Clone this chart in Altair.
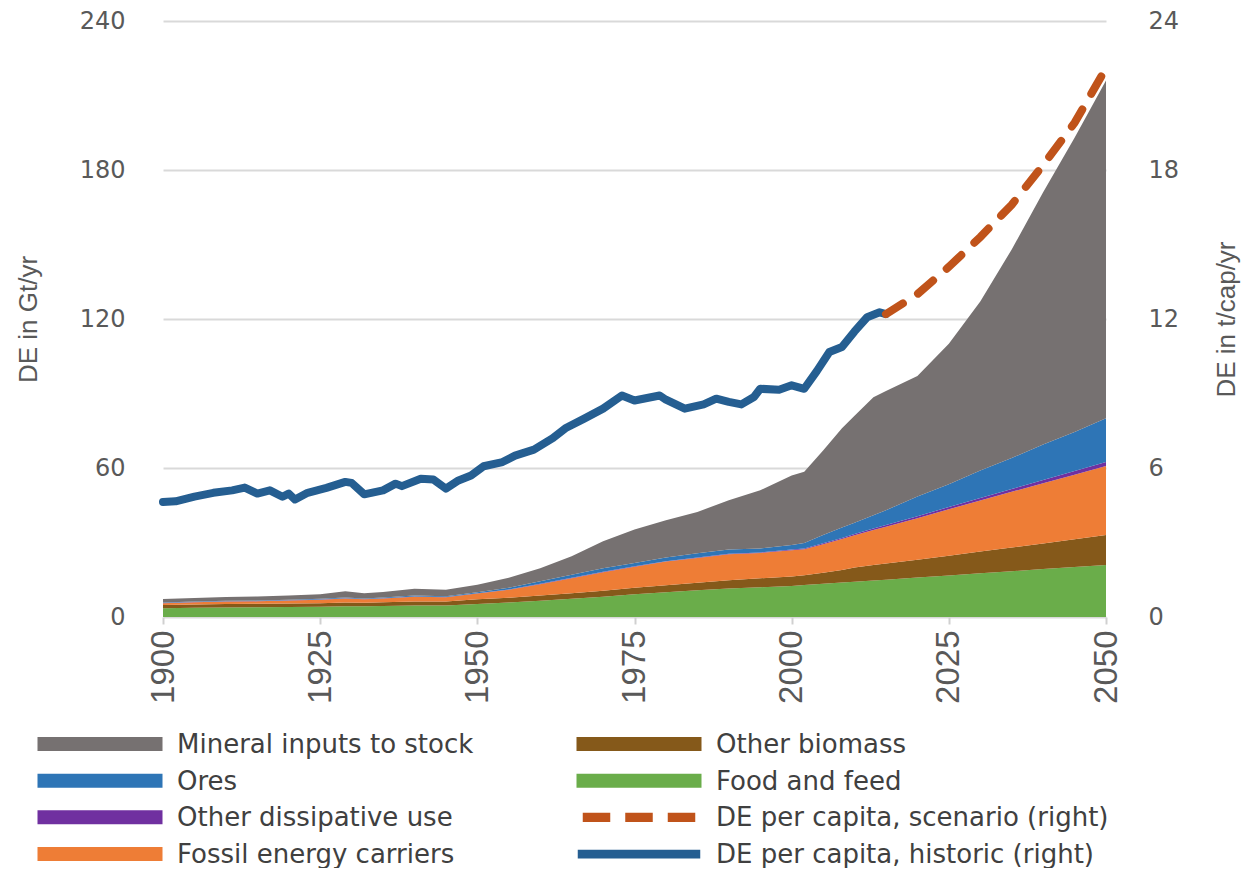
import altair as alt
import pandas as pd

# ---------------- data ----------------
years = [1900, 1905, 1910, 1915, 1920, 1925, 1929, 1932, 1935, 1940, 1945,
         1950, 1955, 1960, 1965, 1970, 1975, 1980, 1985, 1990, 1995, 2000,
         2002, 2005, 2008, 2010, 2013, 2015, 2020, 2025, 2030, 2035, 2040,
         2045, 2050]

food_feed = [3.5, 3.7, 3.8, 3.9, 4.0, 4.1, 4.3, 4.3, 4.4, 4.6, 4.6,
             5.2, 5.8, 6.5, 7.3, 8.2, 9.2, 10.0, 10.8, 11.5, 12.0, 12.5,
             12.9, 13.4, 13.9, 14.2, 14.7, 15.0, 15.9, 16.7, 17.6, 18.4, 19.3,
             20.1, 20.9]
other_biomass = [1.3, 1.3, 1.4, 1.4, 1.4, 1.4, 1.5, 1.4, 1.5, 1.6, 1.6,
                 1.9, 2.0, 2.2, 2.3, 2.4, 2.6, 2.8, 3.0, 3.3, 3.6, 3.8,
                 3.9, 4.4, 5.0, 5.7, 6.2, 6.5, 7.2, 8.0, 8.8, 9.6, 10.3,
                 11.2, 12.1]
fossil = [0.7, 0.9, 1.0, 1.0, 1.2, 1.4, 1.7, 1.4, 1.6, 2.0, 1.8,
          2.4, 3.2, 4.5, 6.0, 7.4, 8.4, 9.5, 10.0, 10.5, 10.2, 10.6,
          10.5, 11.5, 12.5, 13.0, 14.1, 14.8, 16.7, 18.7, 20.5, 22.4, 24.3,
          26.0, 27.8]
dissipative = [0.1, 0.1, 0.1, 0.1, 0.1, 0.1, 0.1, 0.1, 0.1, 0.1, 0.1,
               0.1, 0.1, 0.2, 0.2, 0.2, 0.2, 0.2, 0.2, 0.2, 0.2, 0.3,
               0.3, 0.4, 0.4, 0.5, 0.6, 0.7, 0.8, 0.9, 1.0, 1.1, 1.3,
               1.5, 1.6]
ores = [0.2, 0.2, 0.2, 0.2, 0.2, 0.3, 0.3, 0.2, 0.3, 0.4, 0.3,
        0.4, 0.7, 1.0, 1.2, 1.4, 1.3, 1.5, 1.7, 1.7, 1.6, 1.8,
        2.2, 3.3, 4.2, 4.6, 5.4, 6.0, 7.9, 9.2, 11.1, 12.5, 14.3,
        15.7, 17.6]
minerals = [1.4, 1.5, 1.6, 1.7, 1.8, 1.9, 2.5, 2.2, 2.2, 2.7, 2.6,
            3.0, 4.0, 5.2, 7.5, 10.9, 13.5, 15.0, 16.6, 19.8, 23.4, 28.0,
            28.7, 34.0, 40.0, 43.0, 47.5, 48.0, 48.5, 56.5, 68.0, 84.0, 101.5,
            118.5, 136.0]

hist_years = [1900, 1902, 1905, 1908, 1911, 1913, 1915, 1917, 1919, 1920,
              1921, 1923, 1926, 1929, 1930, 1932, 1935, 1937, 1938, 1941,
              1943, 1945, 1947, 1949, 1951, 1954, 1956, 1959, 1962, 1964,
              1967, 1970, 1973, 1975, 1979, 1980, 1983, 1986, 1988, 1990,
              1992, 1994, 1995, 1998, 2000, 2002, 2004, 2006, 2008, 2010,
              2012, 2014, 2015]
hist_vals = [4.63, 4.66, 4.85, 5.0, 5.1, 5.21, 4.97, 5.1, 4.84, 4.97,
             4.73, 5.0, 5.2, 5.44, 5.4, 4.94, 5.1, 5.37, 5.27, 5.57,
             5.54, 5.17, 5.5, 5.7, 6.07, 6.24, 6.5, 6.74, 7.2, 7.6,
             7.99, 8.39, 8.92, 8.72, 8.92, 8.75, 8.39, 8.56, 8.79, 8.66,
             8.56, 8.86, 9.19, 9.15, 9.33, 9.19, 9.9, 10.67, 10.87, 11.5,
             12.07, 12.27, 12.2]

scen_years = [2015, 2020, 2025, 2030, 2035, 2040, 2045, 2050]
scen_vals = [12.2, 13.0, 14.1, 15.3, 16.6, 18.2, 19.9, 22.1]

area_names = ["Food and feed", "Other biomass", "Fossil energy carriers",
              "Other dissipative use", "Ores", "Mineral inputs to stock"]
area_series = [food_feed, other_biomass, fossil, dissipative, ores, minerals]

# legend entries, laid out two per row
legend_order = ["Mineral inputs to stock", "Other biomass",
                "Ores", "Food and feed",
                "Other dissipative use", "DE per capita, scenario (right)",
                "Fossil energy carriers", "DE per capita, historic (right)"]
legend_colors = ["#767171", "#85591A",
                 "#2E75B6", "#6AAD4A",
                 "#7030A0", "#C0531A",
                 "#EE7D36", "#255E91"]
legend_col = [0, 1, 0, 1, 0, 1, 0, 1]
legend_row = [0, 0, 1, 1, 2, 2, 3, 3]
legend_kind = ["bar", "bar", "bar", "bar", "bar", "dash", "bar", "line"]

x_ticks = [1900, 1925, 1950, 1975, 2000, 2025, 2050]
left_ticks = [0, 60, 120, 180, 240]
right_ticks = [0, 6, 12, 18, 24]

# ---------------- tables ----------------
rows = []
for k, (name, vals) in enumerate(zip(area_names, area_series)):
    for yr, v in zip(years, vals):
        rows.append({"year": yr, "value": v, "series": name, "k": k})
area_df = pd.DataFrame(rows)
hist_df = pd.DataFrame({"year": hist_years, "pc": hist_vals,
                        "series": "DE per capita, historic (right)"})
scen_df = pd.DataFrame({"year": scen_years, "pc": scen_vals,
                        "series": "DE per capita, scenario (right)"})
legend_df = pd.DataFrame({"series": legend_order, "col": legend_col,
                          "row": legend_row, "kind": legend_kind})

RECT = "M-1,-0.112L1,-0.112L1,0.112L-1,0.112Z"
DASH = ("M-0.9,-0.075L-0.46,-0.075L-0.46,0.075L-0.9,0.075Z "
        "M-0.22,-0.075L0.22,-0.075L0.22,0.075L-0.22,0.075Z "
        "M0.46,-0.075L0.9,-0.075L0.9,0.075L0.46,0.075Z")
LINE = "M-0.98,-0.07L0.98,-0.07L0.98,0.07L-0.98,0.07Z"

ROT = "Liberation Sans, Arial, sans-serif"
WIDE = "DejaVu Sans, Verdana, sans-serif"
TXT = "#595959"

color_scale = alt.Scale(domain=legend_order, range=legend_colors)
x_scale = alt.Scale(domain=[1900, 2050], nice=False, zero=False)

x_enc = alt.X("year:Q", scale=x_scale,
              axis=alt.Axis(values=x_ticks, format="d", title=None,
                            labelAngle=270, labelFont=ROT, labelFontSize=33,
                            labelColor=TXT, labelPadding=6, tickSize=7,
                            tickColor="#d0d0d0", tickWidth=2, domain=False,
                            grid=False))
x_noaxis = alt.X("year:Q", scale=x_scale, axis=None)

areas = alt.Chart(area_df).mark_area(interpolate="linear").encode(
    x=x_enc,
    y=alt.Y("value:Q", stack="zero",
            scale=alt.Scale(domain=[0, 240], nice=False),
            axis=alt.Axis(values=left_ticks, title="DE in Gt/yr", orient="left",
                          labelFont=WIDE, labelFontSize=24, labelColor=TXT,
                          labelPadding=38, ticks=False, tickSize=0, domain=False,
                          grid=True, gridColor="#d9d9d9", gridWidth=2,
                          titleFont=ROT, titleFontSize=26,
                          titleFontWeight="normal", titleColor=TXT,
                          titlePadding=38, titleAngle=270)),
    color=alt.Color("series:N", scale=color_scale, legend=None),
    order=alt.Order("k:Q", sort="ascending"),
)

right_axis = alt.Axis(values=right_ticks, title="DE in t/cap/yr", orient="right",
                      labelFont=WIDE, labelFontSize=24, labelColor=TXT,
                      labelPadding=42, ticks=False, tickSize=0, domain=False,
                      grid=False, titleFont=ROT, titleFontSize=26,
                      titleFontWeight="normal", titleColor=TXT,
                      titlePadding=61, titleAngle=270)
right_y = alt.Y("pc:Q", scale=alt.Scale(domain=[0, 24], nice=False), axis=right_axis)

hist_line = alt.Chart(hist_df).mark_line(strokeWidth=8, strokeJoin="round",
                                         strokeCap="round").encode(
    x=x_noaxis, y=right_y,
    color=alt.Color("series:N", scale=color_scale, legend=None))

scen_line = alt.Chart(scen_df).mark_line(strokeWidth=8, strokeDash=[20, 18],
                                         strokeCap="round").encode(
    x=x_noaxis, y=right_y,
    color=alt.Color("series:N", scale=color_scale, legend=None))

lines = alt.layer(hist_line, scen_line)

# ---------------- legend drawn below the plot ----------------
leg_base = alt.Chart(legend_df).encode(
    x=alt.X("col:Q", scale=alt.Scale(domain=[0, 1], range=[-63, 476]), axis=None),
    y=alt.Y("row:Q", scale=alt.Scale(domain=[0, 3], range=[723, 833]), axis=None),
)
leg_sym = leg_base.mark_point(filled=True, size=15625, opacity=1,
                              strokeWidth=0).encode(
    color=alt.Color("series:N", scale=color_scale, legend=None),
    shape=alt.Shape("kind:N",
                    scale=alt.Scale(domain=["bar", "dash", "line"],
                                    range=[RECT, DASH, LINE]),
                    legend=None),
)
leg_txt = leg_base.mark_text(align="left", baseline="middle", dx=77, dy=1,
                             font=WIDE, fontSize=26, color="#404040").encode(
    text="series:N")
legend_marks = alt.layer(leg_sym, leg_txt)

chart = alt.layer(areas, lines, legend_marks).resolve_scale(
    x="independent", y="independent"
).properties(
    width=943, height=596,
    autosize=alt.AutoSizeParams(type="none"),
    padding={"left": 155, "top": 13, "right": 135, "bottom": 251},
).configure_view(strokeWidth=0)

chart.save("out.html", embed_options={"renderer": "svg", "actions": False})
